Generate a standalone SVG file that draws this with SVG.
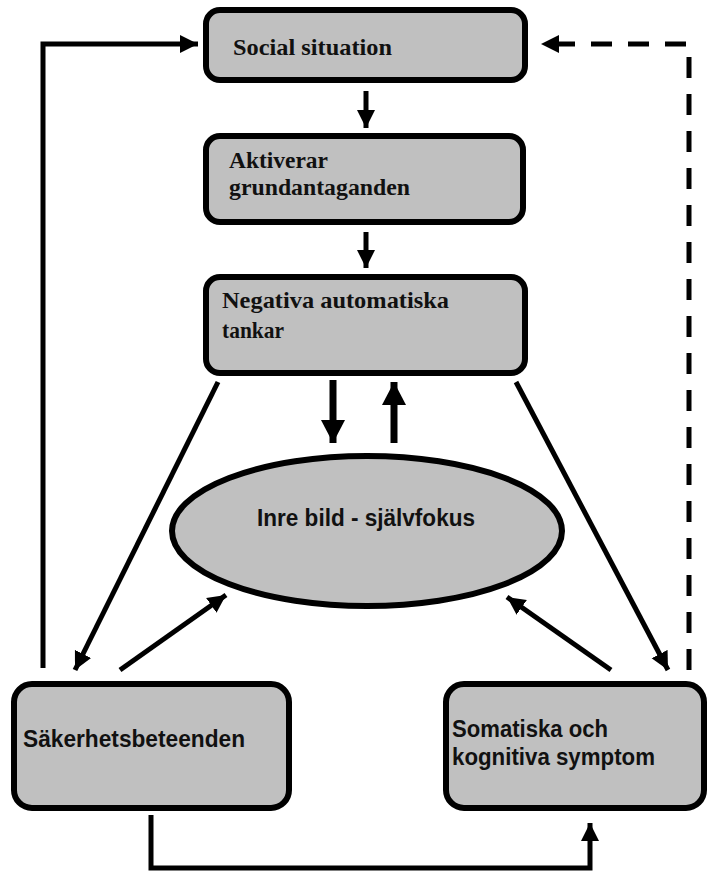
<svg xmlns="http://www.w3.org/2000/svg" width="708" height="872" viewBox="0 0 708 872">
<defs>
<style>
.box{fill:#c0c0c0;stroke:#000;stroke-width:6}
.serif{font-family:"Liberation Serif","Times New Roman",serif;font-weight:bold;font-size:23px;fill:#111}
.sans{font-family:"Liberation Sans",Arial,sans-serif;font-weight:bold;font-size:23px;fill:#111}
.c{fill:none;stroke:#000;stroke-width:5}
.thick{fill:none;stroke:#000;stroke-width:7}
</style>
<marker id="ah" markerUnits="userSpaceOnUse" markerWidth="20" markerHeight="20" viewBox="0 0 20 20" refX="18" refY="10" orient="auto">
<path d="M0,1 L18,10 L0,19 Z" fill="#000"/>
</marker>
<marker id="ahb" markerUnits="userSpaceOnUse" markerWidth="26" markerHeight="26" viewBox="0 0 26 26" refX="23" refY="13" orient="auto">
<path d="M0,1 L23,13 L0,25 Z" fill="#000"/>
</marker>
</defs>
<rect width="708" height="872" fill="#fff"/>
<g id="connectors">
<line class="c" x1="366" y1="91" x2="366" y2="128" marker-end="url(#ah)"/>
<line class="c" x1="366" y1="232" x2="366" y2="268" marker-end="url(#ah)"/>
<line class="thick" x1="333" y1="380" x2="333" y2="443" marker-end="url(#ahb)"/>
<line class="thick" x1="394" y1="443" x2="394" y2="382" marker-end="url(#ahb)"/>
<line class="c" x1="218" y1="382" x2="75" y2="670" marker-end="url(#ah)"/>
<line class="c" x1="516" y1="382" x2="668" y2="670" marker-end="url(#ah)"/>
<line class="c" x1="120" y1="670" x2="226" y2="595" marker-end="url(#ah)"/>
<line class="c" x1="611" y1="670" x2="507" y2="597" marker-end="url(#ah)"/>
<polyline class="c" points="43,668 43,44 198,44" marker-end="url(#ah)"/>
<polyline class="c" points="689,670 689,44 541,44" stroke-dasharray="21 16" marker-end="url(#ah)"/>
<polyline class="c" points="151,815 151,868 590,868 590,823" marker-end="url(#ah)"/>
</g>
<g id="social">
<rect class="box" x="206" y="10" width="319" height="70" rx="14"/>
<text class="serif" x="233" y="55" textLength="159" lengthAdjust="spacingAndGlyphs">Social situation</text>
</g>
<g id="aktiverar">
<rect class="box" x="206" y="136" width="317" height="86" rx="14"/>
<text class="serif" x="229" y="168" textLength="99" lengthAdjust="spacingAndGlyphs">Aktiverar</text>
<text class="serif" x="229" y="195" textLength="181" lengthAdjust="spacingAndGlyphs">grundantaganden</text>
</g>
<g id="negativa">
<rect class="box" x="206" y="277" width="319" height="96" rx="14"/>
<text class="serif" x="222" y="308" textLength="227" lengthAdjust="spacingAndGlyphs">Negativa automatiska</text>
<text class="serif" x="222" y="338" textLength="62" lengthAdjust="spacingAndGlyphs">tankar</text>
</g>
<g id="inre">
<ellipse class="box" cx="367" cy="531" rx="195" ry="75"/>
<text class="sans" x="366" y="526" text-anchor="middle" textLength="218" lengthAdjust="spacingAndGlyphs">Inre bild - självfokus</text>
</g>
<g id="sakerhets">
<rect class="box" x="14" y="684" width="275" height="124" rx="18"/>
<text class="sans" x="23" y="747" textLength="222" lengthAdjust="spacingAndGlyphs">Säkerhetsbeteenden</text>
</g>
<g id="somatiska">
<rect class="box" x="446" y="684" width="258" height="124" rx="18"/>
<text class="sans" x="452" y="737" textLength="156" lengthAdjust="spacingAndGlyphs">Somatiska och</text>
<text class="sans" x="452" y="765" textLength="203" lengthAdjust="spacingAndGlyphs">kognitiva symptom</text>
</g>
</svg>
